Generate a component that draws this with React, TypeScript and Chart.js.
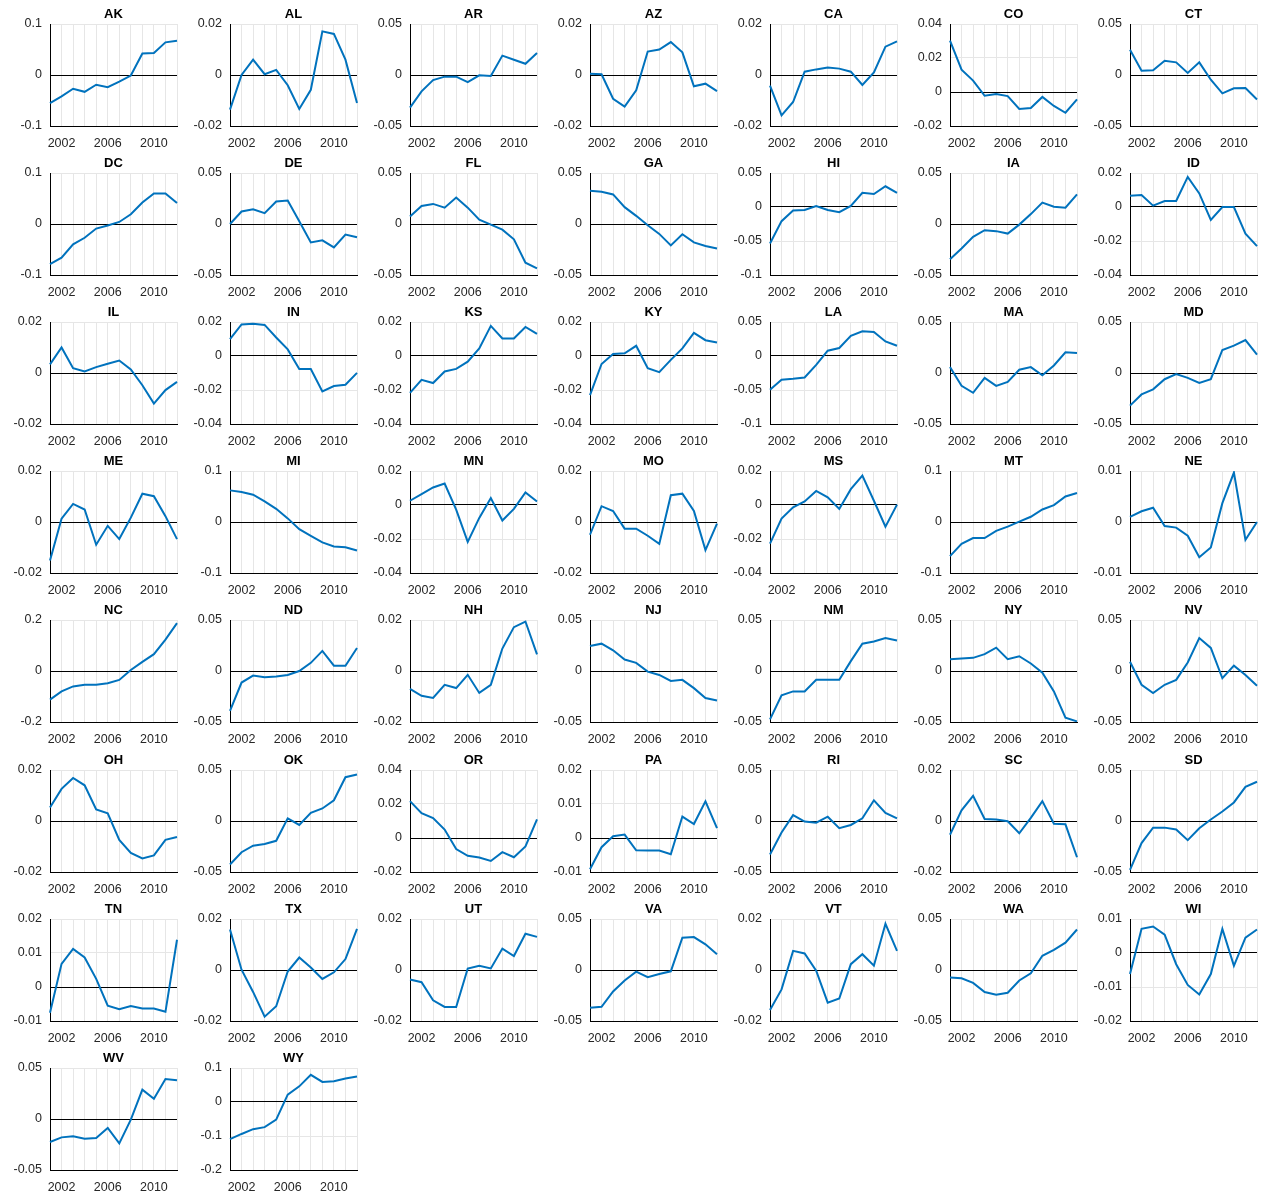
import React, { useEffect, useRef } from "react";
import { Chart, registerables } from "chart.js";

Chart.register(...registerables);

// ---------- data ----------
const YEARS = [2001, 2002, 2003, 2004, 2005, 2006, 2007, 2008, 2009, 2010, 2011, 2012];
const LABELED_YEARS = [2002, 2006, 2010];

const STATES = [
  "AK", "AL", "AR", "AZ", "CA", "CO", "CT",
  "DC", "DE", "FL", "GA", "HI", "IA", "ID",
  "IL", "IN", "KS", "KY", "LA", "MA", "MD",
  "ME", "MI", "MN", "MO", "MS", "MT", "NE",
  "NC", "ND", "NH", "NJ", "NM", "NY", "NV",
  "OH", "OK", "OR", "PA", "RI", "SC", "SD",
  "TN", "TX", "UT", "VA", "VT", "WA", "WI",
  "WV", "WY",
];

const AK = [-0.055, -0.042, -0.027, -0.033, -0.019, -0.024, -0.013, -0.001, 0.042, 0.043, 0.064, 0.067];
const AL = [-0.0136, 0.0, 0.006, 0.0003, 0.002, -0.004, -0.0133, -0.0058, 0.0171, 0.0161, 0.006, -0.011];
const AR = [-0.032, -0.016, -0.005, -0.0016, -0.0016, -0.007, -0.0003, -0.001, 0.019, 0.015, 0.011, 0.0216];
const AZ = [0.0005, 0.0003, -0.0093, -0.0124, -0.006, 0.0092, 0.01, 0.0129, 0.0089, -0.0044, -0.0034, -0.0063];
const CA = [-0.0042, -0.0158, -0.0106, 0.0013, 0.0022, 0.0029, 0.0025, 0.0013, -0.0039, 0.001, 0.0111, 0.0132];
const CO = [0.0302, 0.0131, 0.0067, -0.0022, -0.0012, -0.0024, -0.01, -0.0094, -0.0029, -0.0082, -0.0122, -0.0043];
const CT = [0.0248, 0.0042, 0.0046, 0.014, 0.0124, 0.002, 0.0124, -0.0046, -0.018, -0.013, -0.0127, -0.024];

const DC = [-0.0787, -0.066, -0.04, -0.027, -0.009, -0.003, 0.004, 0.019, 0.042, 0.06, 0.06, 0.041];
const DE = [0.0, 0.0123, 0.0145, 0.0106, 0.022, 0.023, 0.0026, -0.018, -0.016, -0.023, -0.0103, -0.013];
const FL = [0.0074, 0.0177, 0.0197, 0.016, 0.026, 0.016, 0.0042, -0.0006, -0.0055, -0.015, -0.038, -0.0435];
const GA = [0.0326, 0.0316, 0.029, 0.0165, 0.008, -0.0013, -0.0097, -0.021, -0.01, -0.018, -0.0216, -0.024];
const HI = [-0.0537, -0.0208, -0.0053, -0.0044, 0.0015, -0.0044, -0.0077, 0.0015, 0.0208, 0.019, 0.0305, 0.0208];
const IA = [-0.0345, -0.024, -0.0126, -0.0061, -0.007, -0.0094, -0.0006, 0.0097, 0.021, 0.017, 0.016, 0.029];
const ID = [0.0066, 0.007, 0.0008, 0.0035, 0.0035, 0.0177, 0.008, -0.0076, 0.0, 0.0, -0.0157, -0.023];

const IL = [0.0034, 0.01, 0.0019, 0.0006, 0.0023, 0.0036, 0.0049, 0.0014, -0.0048, -0.012, -0.0067, -0.0035];
const IN = [0.0099, 0.0186, 0.019, 0.0183, 0.0109, 0.0039, -0.0076, -0.0076, -0.0208, -0.0177, -0.0169, -0.0099];
const KS = [-0.0217, -0.014, -0.0159, -0.0091, -0.0076, -0.0033, 0.0045, 0.0177, 0.0103, 0.0103, 0.0171, 0.013];
const KY = [-0.023, -0.0047, 0.0012, 0.0016, 0.006, -0.0072, -0.0095, -0.0023, 0.0045, 0.0136, 0.0093, 0.008];
const LA = [-0.0495, -0.035, -0.0335, -0.0316, -0.013, 0.0078, 0.0117, 0.0296, 0.0364, 0.0354, 0.0214, 0.015];
const MA = [0.0058, -0.0126, -0.0194, -0.0048, -0.0126, -0.0087, 0.0032, 0.0058, -0.0023, 0.0074, 0.0203, 0.0197];
const MD = [-0.032, -0.021, -0.016, -0.0061, -0.001, -0.0048, -0.0097, -0.0061, 0.0226, 0.0268, 0.0323, 0.018];

const ME = [-0.0151, 0.0013, 0.0071, 0.0049, -0.0089, -0.0015, -0.0067, 0.0017, 0.0111, 0.0101, 0.0023, -0.0067];
const MI = [0.062, 0.0587, 0.0535, 0.0406, 0.0258, 0.0071, -0.0142, -0.027, -0.04, -0.048, -0.0497, -0.056];
const MN = [0.0025, 0.0064, 0.0103, 0.0126, -0.0027, -0.0217, -0.0076, 0.0041, -0.0091, -0.0023, 0.0074, 0.0021];
const MO = [-0.005, 0.0062, 0.0043, -0.0026, -0.0026, -0.0054, -0.0086, 0.0105, 0.0111, 0.0043, -0.011, -0.0006];
const MS = [-0.0227, -0.008, -0.0014, 0.0021, 0.0083, 0.0045, -0.0023, 0.0093, 0.0173, 0.0025, -0.0128, 0.0002];
const MT = [-0.067, -0.043, -0.0316, -0.0316, -0.0174, -0.009, 0.0006, 0.0103, 0.0245, 0.033, 0.05, 0.0568];
const NE = [0.001, 0.0021, 0.0028, -0.0008, -0.0011, -0.0027, -0.0069, -0.005, 0.0037, 0.0097, -0.0035, 0.0];

const NC = [-0.112, -0.08, -0.0606, -0.054, -0.054, -0.048, -0.035, 0.004, 0.036, 0.066, 0.123, 0.188];
const ND = [-0.039, -0.0113, -0.0045, -0.0061, -0.0055, -0.0039, 0.0, 0.008, 0.0197, 0.0052, 0.0052, 0.0226];
const NH = [-0.007, -0.0097, -0.0106, -0.0054, -0.0067, -0.0015, -0.0086, -0.0054, 0.0088, 0.0172, 0.0194, 0.0065];
const NJ = [0.0245, 0.0268, 0.0203, 0.0113, 0.008, -0.0006, -0.0039, -0.0097, -0.0087, -0.0168, -0.0265, -0.029];
const NM = [-0.0474, -0.0239, -0.02, -0.02, -0.0087, -0.0087, -0.0087, 0.0097, 0.0268, 0.029, 0.0323, 0.03];
const NY = [0.0116, 0.0123, 0.0129, 0.0165, 0.0229, 0.0116, 0.0145, 0.0074, -0.0016, -0.02, -0.0458, -0.0494];
const NV = [0.009, -0.0135, -0.0216, -0.0135, -0.0087, 0.0084, 0.0323, 0.0226, -0.0071, 0.0052, -0.0039, -0.0145];

const OH = [0.0053, 0.0126, 0.0169, 0.014, 0.0045, 0.003, -0.0074, -0.0125, -0.0147, -0.0135, -0.0074, -0.0063];
const OK = [-0.0426, -0.0306, -0.0242, -0.0226, -0.0194, 0.0026, -0.0039, 0.008, 0.0123, 0.0203, 0.0429, 0.0455];
const OR = [0.0217, 0.0146, 0.0117, 0.005, -0.0065, -0.0105, -0.0115, -0.0135, -0.0083, -0.0113, -0.005, 0.011];
const PA = [-0.0092, -0.0027, 0.0005, 0.001, -0.0036, -0.0037, -0.0037, -0.0048, 0.0063, 0.0041, 0.0108, 0.0029];
const RI = [-0.0329, -0.0113, 0.0058, -0.0006, -0.0016, 0.0042, -0.0071, -0.0039, 0.0026, 0.0203, 0.008, 0.0026];
const SC = [-0.0054, 0.0042, 0.0099, 0.0008, 0.0006, -0.0001, -0.0048, 0.0012, 0.0078, -0.0011, -0.0013, -0.0142];
const SD = [-0.048, -0.0216, -0.0065, -0.0065, -0.0083, -0.0188, -0.0071, 0.0015, 0.0093, 0.0182, 0.0335, 0.0385];

const TN = [-0.0076, 0.0068, 0.0112, 0.0087, 0.0024, -0.0055, -0.0065, -0.0056, -0.0063, -0.0063, -0.0073, 0.0139];
const TX = [0.0159, 0.0001, -0.0086, -0.0183, -0.0142, -0.0006, 0.0049, 0.001, -0.0035, -0.0009, 0.0043, 0.0161];
const UT = [-0.0037, -0.0048, -0.0119, -0.0145, -0.0145, 0.0006, 0.0017, 0.0006, 0.0084, 0.0055, 0.0142, 0.013];
const VA = [-0.0371, -0.0361, -0.021, -0.0103, -0.0016, -0.0071, -0.0039, -0.0013, 0.0316, 0.0323, 0.0252, 0.0155];
const VT = [-0.0157, -0.0076, 0.0075, 0.0065, -0.0003, -0.0128, -0.0112, 0.0023, 0.0062, 0.0017, 0.0181, 0.0075];
const WA = [-0.0074, -0.0081, -0.0126, -0.0216, -0.0242, -0.0223, -0.0103, -0.0032, 0.0139, 0.0197, 0.0268, 0.0397];
const WI = [-0.0062, 0.0071, 0.0078, 0.0054, -0.0033, -0.0094, -0.0122, -0.0062, 0.0071, -0.0038, 0.0045, 0.0069];

const WV = [-0.0225, -0.018, -0.017, -0.0193, -0.0186, -0.0088, -0.0239, -0.0007, 0.0288, 0.0199, 0.0392, 0.0379];
const WY = [-0.109, -0.094, -0.08, -0.074, -0.052, 0.0216, 0.046, 0.08, 0.059, 0.061, 0.069, 0.075];

// y-axis limits and tick step per state (same order as STATES)
const Y_MIN = [
  -0.1, -0.02, -0.05, -0.02, -0.02, -0.02, -0.05,
  -0.1, -0.05, -0.05, -0.05, -0.1, -0.05, -0.04,
  -0.02, -0.04, -0.04, -0.04, -0.1, -0.05, -0.05,
  -0.02, -0.1, -0.04, -0.02, -0.04, -0.1, -0.01,
  -0.2, -0.05, -0.02, -0.05, -0.05, -0.05, -0.05,
  -0.02, -0.05, -0.02, -0.01, -0.05, -0.02, -0.05,
  -0.01, -0.02, -0.02, -0.05, -0.02, -0.05, -0.02,
  -0.05, -0.2,
];
const Y_MAX = [
  0.1, 0.02, 0.05, 0.02, 0.02, 0.04, 0.05,
  0.1, 0.05, 0.05, 0.05, 0.05, 0.05, 0.02,
  0.02, 0.02, 0.02, 0.02, 0.05, 0.05, 0.05,
  0.02, 0.1, 0.02, 0.02, 0.02, 0.1, 0.01,
  0.2, 0.05, 0.02, 0.05, 0.05, 0.05, 0.05,
  0.02, 0.05, 0.04, 0.02, 0.05, 0.02, 0.05,
  0.02, 0.02, 0.02, 0.05, 0.02, 0.05, 0.01,
  0.05, 0.1,
];
const Y_STEP = [
  0.1, 0.02, 0.05, 0.02, 0.02, 0.02, 0.05,
  0.1, 0.05, 0.05, 0.05, 0.05, 0.05, 0.02,
  0.02, 0.02, 0.02, 0.02, 0.05, 0.05, 0.05,
  0.02, 0.1, 0.02, 0.02, 0.02, 0.1, 0.01,
  0.2, 0.05, 0.02, 0.05, 0.05, 0.05, 0.05,
  0.02, 0.05, 0.02, 0.01, 0.05, 0.02, 0.05,
  0.01, 0.02, 0.02, 0.05, 0.02, 0.05, 0.01,
  0.05, 0.1,
];

const SERIES: Record<string, number[]> = {
  AK, AL, AR, AZ, CA, CO, CT, DC, DE, FL, GA, HI, IA, ID,
  IL, IN, KS, KY, LA, MA, MD, ME, MI, MN, MO, MS, MT, NE,
  NC, ND, NH, NJ, NM, NY, NV, OH, OK, OR, PA, RI, SC, SD,
  TN, TX, UT, VA, VT, WA, WI, WV, WY,
};

// ---------- layout / style ----------
const COLS = 7;
const CELL_W = 180;
const CELL_H = 149.1;
const CANVAS_W = 187;
const CANVAS_H = 149;
const X_TICK_PAD = 10;
const FONT = "'Liberation Sans', Arial, Helvetica, sans-serif";
const LINE_COLOR = "#0072BD";
const GRID_COLOR = "#e6e6e6";
const TEXT_COLOR = "#262626";

function fmt(v: number): string {
  const r = Math.round(v * 1000) / 1000;
  if (Math.abs(r) < 1e-9) return "0";
  return String(r);
}

function Panel({ index }: { index: number }) {
  const ref = useRef<HTMLCanvasElement | null>(null);
  const state = STATES[index];
  const col = index % COLS;
  const row = Math.floor(index / COLS);

  useEffect(() => {
    if (!ref.current) return;
    const chart = new Chart(ref.current, {
      type: "line",
      data: {
        labels: YEARS.map(String),
        datasets: [
          {
            data: SERIES[state],
            borderColor: LINE_COLOR,
            borderWidth: 2,
            pointRadius: 0,
            tension: 0,
            fill: false,
          },
        ],
      },
      options: {
        responsive: false,
        animation: false,
        devicePixelRatio: 1,
        layout: { padding: { top: 0, right: 0, bottom: 0, left: 0 } },
        plugins: {
          legend: { display: false },
          tooltip: { enabled: false },
          title: {
            display: true,
            fullSize: false,
            text: state,
            color: "#000",
            font: { family: FONT, size: 13, weight: "bold" },
            padding: { top: 7, bottom: 1.4 },
          },
        },
        scales: {
          x: {
            type: "category",
            offset: false,
            grid: { color: GRID_COLOR, lineWidth: 1, drawTicks: false, offset: false },
            border: { color: "#000", width: 1 },
            ticks: {
              autoSkip: false,
              maxRotation: 0,
              minRotation: 0,
              padding: X_TICK_PAD,
              color: TEXT_COLOR,
              font: { family: FONT, size: 12.5 },
              callback: (_v: any, i: number) =>
                LABELED_YEARS.includes(YEARS[i]) ? String(YEARS[i]) : "",
            },
            afterFit: (s: any) => {
              s.height = 23;
            },
          },
          y: {
            type: "linear",
            min: Y_MIN[index],
            max: Y_MAX[index],
            grid: {
              drawTicks: false,
              lineWidth: 1,
              color: (ctx: any) => {
                const v = ctx.tick ? ctx.tick.value : 1;
                if (Math.abs(v) < 1e-9) return "#000";
                if (Math.abs(v - Y_MIN[index]) < 1e-9) return "#000";
                return GRID_COLOR;
              },
            },
            border: { color: "#000", width: 1 },
            ticks: {
              stepSize: Y_STEP[index],
              padding: 8,
              color: TEXT_COLOR,
              font: { family: FONT, size: 12.5 },
              callback: (v: any) => fmt(Number(v)),
            },
            afterFit: (s: any) => {
              s.width = 50;
            },
          },
        },
      },
    });
    return () => chart.destroy();
  }, [index, state]);

  return (
    <canvas
      ref={ref}
      width={CANVAS_W}
      height={CANVAS_H}
      style={{
        position: "absolute",
        left: col * CELL_W,
        top: Math.round(row * CELL_H),
        width: CANVAS_W,
        height: CANVAS_H,
      }}
    />
  );
}

export default function App() {
  return (
    <div
      style={{
        position: "absolute",
        left: 0,
        top: 0,
        width: 1264,
        height: 1194,
        background: "#fff",
      }}
    >
      {STATES.map((_, i) => (
        <Panel key={STATES[i]} index={i} />
      ))}
    </div>
  );
}
